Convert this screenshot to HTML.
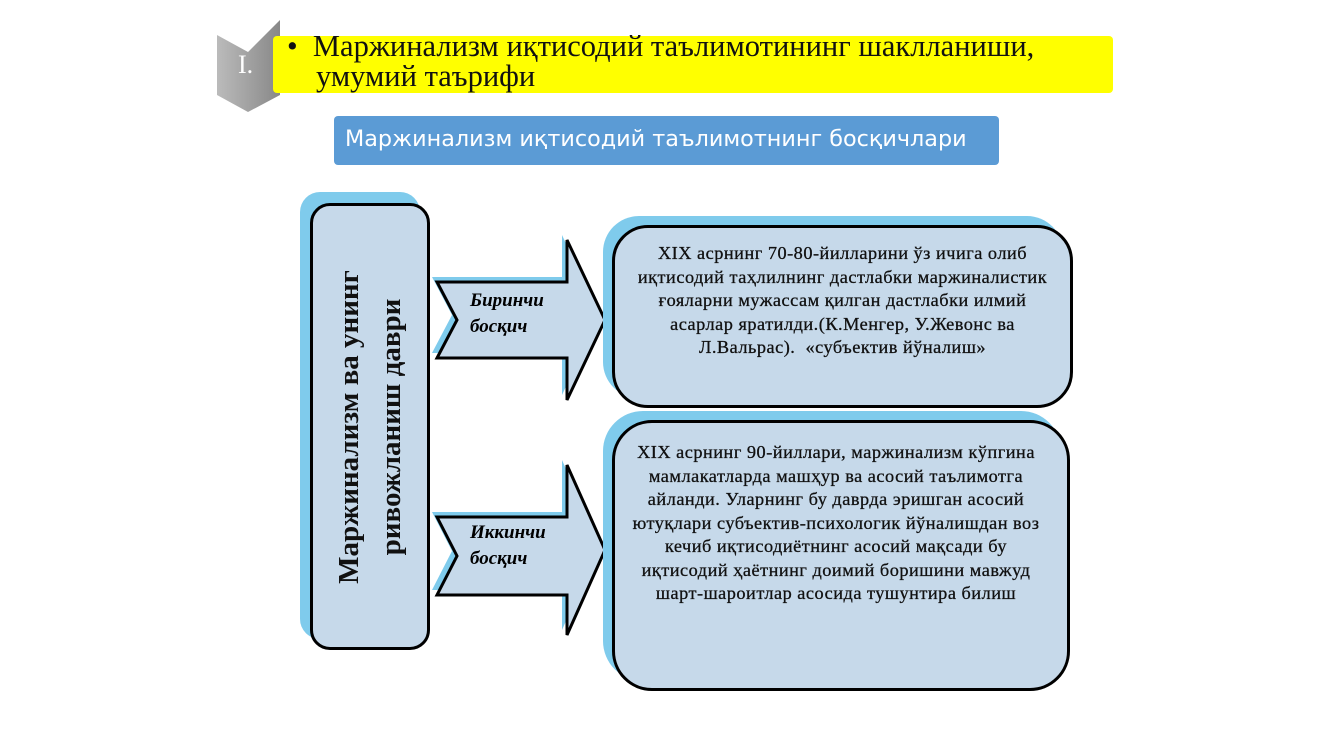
<!DOCTYPE html>
<html><head><meta charset="utf-8"><style>
body{margin:0;width:1333px;height:750px;background:#fff;position:relative;overflow:hidden;font-family:"Liberation Serif",serif}
.abs{position:absolute}
.box{position:absolute;background:#c6d9ea;border:3px solid #000;box-sizing:border-box}
.sh{position:absolute;background:#7fcbec}
.txt{font-size:18.3px;letter-spacing:0.5px;line-height:23.5px;text-align:center;color:#111;-webkit-text-stroke:0.3px #111;white-space:nowrap}
</style></head><body>
<svg class="abs" style="left:0;top:0" width="1333" height="750">
 <defs><linearGradient id="g" x1="0" x2="1"><stop offset="0" stop-color="#bbb"/><stop offset="1" stop-color="#888"/></linearGradient></defs>
 <polygon points="217,35 248,52 280,20 280,95 248,112 217,95" fill="url(#g)"/>
 <polygon points="432,277 562,277 562,235 600,315 562,395 562,353 432,353 452,315" fill="#7fcbec"/>
 <polygon points="432,512 562,512 562,460 600,545 562,630 562,590 432,590 452,551" fill="#7fcbec"/>
 <polygon points="437,282 567,282 567,240 605,320 567,400 567,358 437,358 457,320" fill="#c6d9ea" stroke="#000" stroke-width="3"/>
 <polygon points="437,517 567,517 567,465 605,550 567,635 567,595 437,595 457,556" fill="#c6d9ea" stroke="#000" stroke-width="3"/>
</svg>
<div class="abs" style="left:273px;top:36px;width:840px;height:57px;background:#ffff00;border-radius:4px"></div>
<div class="abs" style="left:238px;top:50px;color:#fff;font-size:26px">I.</div>
<div class="abs" style="left:287px;top:31px;font-size:30.5px;line-height:30px;color:#111;white-space:nowrap">•&nbsp;&nbsp;Маржинализм иқтисодий таълимотининг шаклланиши,<br><span style="padding-left:29px">умумий таърифи</span></div>
<div class="abs" style="left:334px;top:116px;width:665px;height:49px;background:#5b9bd5;border-radius:4px;color:#fff;font-family:'DejaVu Sans',sans-serif;font-size:22.3px;line-height:47px;text-indent:11px;white-space:nowrap">Маржинализм иқтисодий таълимотнинг босқичлари</div>

<div class="sh" style="left:300px;top:192px;width:120px;height:447px;border-radius:20px"></div>
<div class="box" style="left:310px;top:203px;width:120px;height:447px;border-radius:20px"></div>
<div class="abs" style="left:150px;top:385px;width:440px;height:84px;transform:rotate(-90deg);text-align:center;font-weight:bold;font-size:29px;line-height:42px;color:#111;white-space:nowrap">Маржинализм ва унинг<br>ривожланиш даври</div>

<div class="abs" style="left:470px;top:288px;font-style:italic;font-weight:bold;font-size:19px;line-height:26px">Биринчи<br>босқич</div>
<div class="abs" style="left:470px;top:520px;font-style:italic;font-weight:bold;font-size:19px;line-height:26px">Иккинчи<br>босқич</div>

<div class="sh" style="left:603px;top:216px;width:460px;height:182px;border-radius:36px"></div>
<div class="box" style="left:612px;top:225px;width:461px;height:183px;border-radius:36px"></div>
<div class="abs txt" style="left:612px;top:242px;width:461px">XIX асрнинг 70-80-йилларини ўз ичига олиб<br>иқтисодий таҳлилнинг дастлабки маржиналистик<br>ғояларни мужассам қилган дастлабки илмий<br>асарлар яратилди.(К.Менгер, У.Жевонс ва<br>Л.Вальрас).&nbsp; «субъектив йўналиш»</div>

<div class="sh" style="left:603px;top:411px;width:458px;height:270px;border-radius:40px"></div>
<div class="box" style="left:612px;top:420px;width:458px;height:271px;border-radius:40px"></div>
<div class="abs txt" style="left:612px;top:441px;width:448px">XIX асрнинг 90-йиллари, маржинализм кўпгина<br>мамлакатларда машҳур ва асосий таълимотга<br>айланди. Уларнинг бу даврда эришган асосий<br>ютуқлари субъектив-психологик йўналишдан воз<br>кечиб иқтисодиётнинг асосий мақсади бу<br>иқтисодий ҳаётнинг доимий боришини мавжуд<br>шарт-шароитлар асосида тушунтира билиш</div>
</body></html>
